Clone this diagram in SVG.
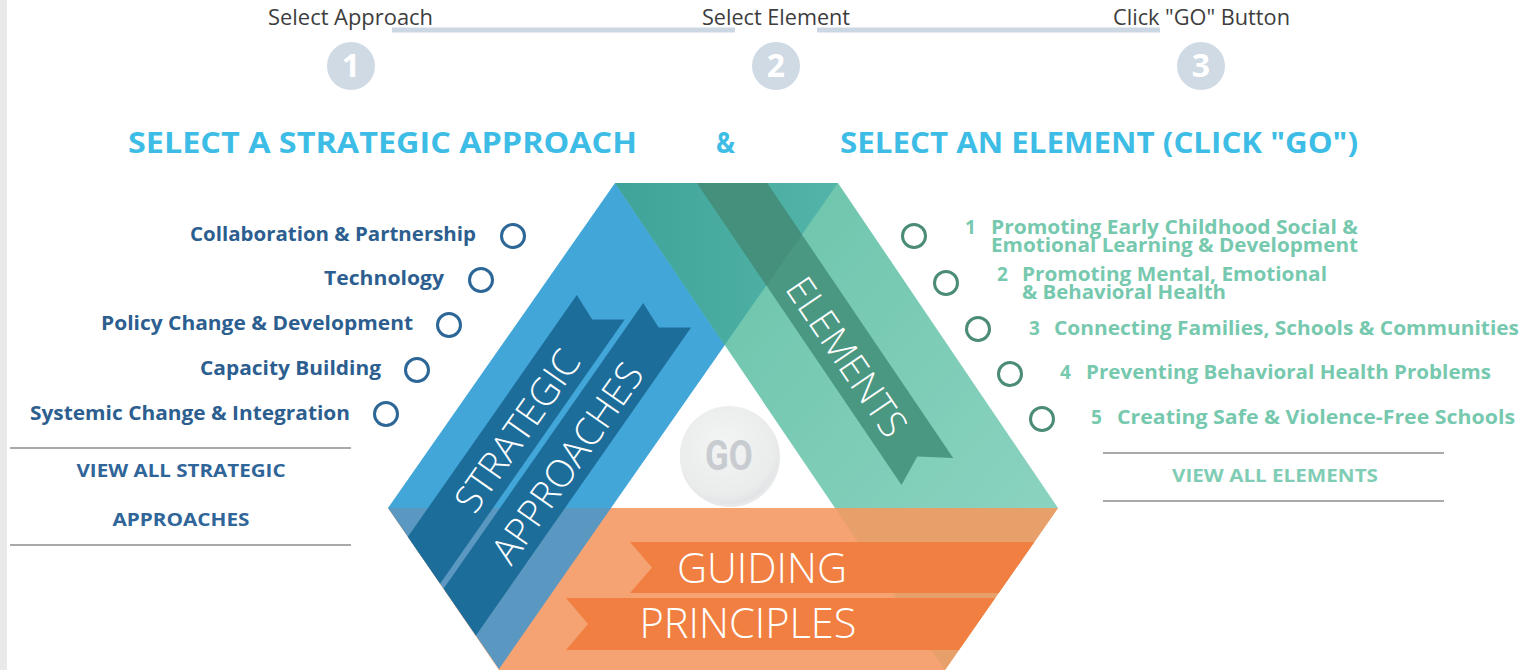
<svg xmlns="http://www.w3.org/2000/svg" width="1535" height="670" viewBox="0 0 1535 670">
  <defs>
    <style>
      .step { font-family: "Open Sans", "Liberation Sans", sans-serif; font-size: 21px; fill: #3d3d3d; }
      .stepnum { font-family: "Open Sans", "Liberation Sans", sans-serif; font-size: 32px; font-weight: 700; fill: #ffffff; text-anchor: middle; }
      .stepdot { fill: #cfdae4; }
      .track { stroke: #cbd8e3; stroke-width: 5; }
      .head { font-family: "Open Sans", "Liberation Sans", sans-serif; font-size: 28px; font-weight: 700; fill: #3dbde6; }
      .appr { font-family: "Open Sans", "Liberation Sans", sans-serif; font-size: 19px; font-weight: 700; fill: #2c5e8f; text-anchor: end; }
      .apprdot { fill: none; stroke: #2c6797; stroke-width: 3; }
      .elem { font-family: "Open Sans", "Liberation Sans", sans-serif; font-size: 19px; font-weight: 700; fill: #76c9ae; }
      .elemdot { fill: none; stroke: #4b8c76; stroke-width: 3; }
      .rule { stroke: #a9a9a9; stroke-width: 2; }
      .viewa { font-family: "Open Sans", "Liberation Sans", sans-serif; font-size: 17px; font-weight: 700; fill: #2f6598; text-anchor: middle; }
      .viewe { font-family: "Open Sans", "Liberation Sans", sans-serif; font-size: 17px; font-weight: 700; fill: #7fcdb4; text-anchor: middle; }
      .band { font-family: "Open Sans", "Liberation Sans", sans-serif; font-size: 38px; font-weight: 300; fill: #ffffff; text-anchor: middle; dominant-baseline: central; }
      .gp { font-family: "Open Sans", "Liberation Sans", sans-serif; font-size: 42px; font-weight: 300; fill: #ffffff; text-anchor: middle; }
    </style>
    <clipPath id="hexClip">
      <polygon points="615,183 838,183 1058,508 945,670 499,670 388,508"/>
    </clipPath>
    <clipPath id="blueClip">
      <polygon points="615,183 838,183 499,669 388,508"/>
    </clipPath>
    <clipPath id="greenClip">
      <polygon points="615,183 838,183 1058,508 835,508"/>
    </clipPath>
    <clipPath id="overlapClip">
      <polygon points="615,183 838,183 724.7,345.1"/>
    </clipPath>
    <linearGradient id="greenFill" gradientUnits="userSpaceOnUse" x1="700" y1="200" x2="1058" y2="508">
      <stop offset="0" stop-color="#6bc3aa"/>
      <stop offset="1" stop-color="#8ad3c0"/>
    </linearGradient>
    <linearGradient id="tealFill" gradientUnits="userSpaceOnUse" x1="615" y1="183" x2="838" y2="183">
      <stop offset="0" stop-color="#3fa399"/>
      <stop offset="1" stop-color="#53b5a9"/>
    </linearGradient>
    <radialGradient id="goFill" cx="0.45" cy="0.4" r="0.65">
      <stop offset="0" stop-color="#f3f4f4"/>
      <stop offset="0.8" stop-color="#eaecec"/>
      <stop offset="1" stop-color="#dcdfe0"/>
    </radialGradient>
  </defs>

  <rect x="0" y="0" width="1535" height="670" fill="#ffffff"/>
  <rect x="0" y="0" width="7" height="670" fill="#e9e9e9"/>

  <!-- step tracker -->
  <g id="steps">
    <line class="track" x1="392" y1="30" x2="735" y2="30"/>
    <line class="track" x1="817" y1="30" x2="1160" y2="30"/>
    <g id="step1">
      <text class="step" x="268" y="25" textLength="165" lengthAdjust="spacingAndGlyphs">Select Approach</text>
      <circle class="stepdot" cx="351" cy="66" r="24"/>
      <text class="stepnum" x="351" y="77">1</text>
    </g>
    <g id="step2">
      <text class="step" x="702" y="25" textLength="148" lengthAdjust="spacingAndGlyphs">Select Element</text>
      <circle class="stepdot" cx="776" cy="66" r="24"/>
      <text class="stepnum" x="776" y="77">2</text>
    </g>
    <g id="step3">
      <text class="step" x="1113" y="25" textLength="177" lengthAdjust="spacingAndGlyphs">Click "GO" Button</text>
      <circle class="stepdot" cx="1201" cy="66" r="24"/>
      <text class="stepnum" x="1201" y="77">3</text>
    </g>
  </g>

  <!-- headings -->
  <g id="headings">
    <text class="head" x="128" y="153" textLength="509" lengthAdjust="spacingAndGlyphs">SELECT A STRATEGIC APPROACH</text>
    <text class="head" x="716" y="153" textLength="19" lengthAdjust="spacingAndGlyphs">&amp;</text>
    <text class="head" x="840" y="153" textLength="518" lengthAdjust="spacingAndGlyphs">SELECT AN ELEMENT (CLICK "GO")</text>
  </g>

  <!-- strategic approaches list -->
  <g id="approaches">
    <g id="appr-collaboration">
      <text class="appr" x="476" y="241" textLength="286" lengthAdjust="spacingAndGlyphs">Collaboration &amp; Partnership</text>
      <circle class="apprdot" cx="513" cy="236" r="11.5"/>
    </g>
    <g id="appr-technology">
      <text class="appr" x="444" y="285" textLength="120" lengthAdjust="spacingAndGlyphs">Technology</text>
      <circle class="apprdot" cx="481" cy="280" r="11.5"/>
    </g>
    <g id="appr-policy">
      <text class="appr" x="413" y="330" textLength="312" lengthAdjust="spacingAndGlyphs">Policy Change &amp; Development</text>
      <circle class="apprdot" cx="449" cy="325" r="11.5"/>
    </g>
    <g id="appr-capacity">
      <text class="appr" x="381" y="375" textLength="181" lengthAdjust="spacingAndGlyphs">Capacity Building</text>
      <circle class="apprdot" cx="417" cy="370" r="11.5"/>
    </g>
    <g id="appr-systemic">
      <text class="appr" x="350" y="420" textLength="320" lengthAdjust="spacingAndGlyphs">Systemic Change &amp; Integration</text>
      <circle class="apprdot" cx="386" cy="414" r="11.5"/>
    </g>
    <g id="view-approaches">
      <line class="rule" x1="10" y1="448" x2="351" y2="448"/>
      <text class="viewa" x="181" y="477" textLength="209" lengthAdjust="spacingAndGlyphs">VIEW ALL STRATEGIC</text>
      <text class="viewa" x="181" y="526" textLength="137" lengthAdjust="spacingAndGlyphs">APPROACHES</text>
      <line class="rule" x1="10" y1="545" x2="351" y2="545"/>
    </g>
  </g>

  <!-- elements list -->
  <g id="elements">
    <g id="elem-1">
      <circle class="elemdot" cx="914" cy="236" r="11.5"/>
      <text class="elem" x="965" y="234">1</text>
      <text class="elem" x="991" y="234" textLength="367" lengthAdjust="spacingAndGlyphs">Promoting Early Childhood Social &amp;</text>
      <text class="elem" x="991" y="252" textLength="367" lengthAdjust="spacingAndGlyphs">Emotional Learning &amp; Development</text>
    </g>
    <g id="elem-2">
      <circle class="elemdot" cx="946" cy="283" r="11.5"/>
      <text class="elem" x="997" y="281">2</text>
      <text class="elem" x="1022" y="281" textLength="305" lengthAdjust="spacingAndGlyphs">Promoting Mental, Emotional</text>
      <text class="elem" x="1022" y="299" textLength="204" lengthAdjust="spacingAndGlyphs">&amp; Behavioral Health</text>
    </g>
    <g id="elem-3">
      <circle class="elemdot" cx="978" cy="329" r="11.5"/>
      <text class="elem" x="1029" y="335">3</text>
      <text class="elem" x="1054" y="335" textLength="465" lengthAdjust="spacingAndGlyphs">Connecting Families, Schools &amp; Communities</text>
    </g>
    <g id="elem-4">
      <circle class="elemdot" cx="1010" cy="374" r="11.5"/>
      <text class="elem" x="1060" y="379">4</text>
      <text class="elem" x="1086" y="379" textLength="405" lengthAdjust="spacingAndGlyphs">Preventing Behavioral Health Problems</text>
    </g>
    <g id="elem-5">
      <circle class="elemdot" cx="1042" cy="419" r="11.5"/>
      <text class="elem" x="1091" y="424">5</text>
      <text class="elem" x="1117" y="424" textLength="398" lengthAdjust="spacingAndGlyphs">Creating Safe &amp; Violence-Free Schools</text>
    </g>
    <g id="view-elements">
      <line class="rule" x1="1103" y1="453" x2="1444" y2="453"/>
      <text class="viewe" x="1275" y="482" textLength="206" lengthAdjust="spacingAndGlyphs">VIEW ALL ELEMENTS</text>
      <line class="rule" x1="1103" y1="501" x2="1444" y2="501"/>
    </g>
  </g>

  <!-- hexagon of three overlapping bands -->
  <g id="guiding-principles">
    <polygon points="388,508 1058,508 945,670 499,670" fill="#f5a372"/>
    <polygon points="835,508 1058,508 945,670" fill="#e8a06b"/>
    <g clip-path="url(#hexClip)">
      <polygon points="630,542 1100,542 1100,593 630,593 652,567.5" fill="#f07f41"/>
      <polygon points="566,598 1100,598 1100,650 566,650 588,624" fill="#f07f41"/>
    </g>
    <text class="gp" x="762" y="583" textLength="170" lengthAdjust="spacingAndGlyphs">GUIDING</text>
    <text class="gp" x="748" y="638" textLength="217" lengthAdjust="spacingAndGlyphs">PRINCIPLES</text>
  </g>

  <g id="strategic-approaches">
    <polygon points="615,183 838,183 611,508 388,508" fill="#42a6d8"/>
    <polygon points="388,508 611,508 499,669" fill="#5a98c1"/>
    <g clip-path="url(#blueClip)" fill="#1d6d9a">
      <polygon points="576.8,295 592.2,319.5 624.7,319.4 358.9,700 293.9,700"/>
      <polygon points="643.2,303 658.6,327.5 691.1,327.4 430.9,700 365.9,700"/>
    </g>
    <text class="band" transform="translate(516,430) rotate(-55.07)">STRATEGIC</text>
    <text class="band" transform="translate(566,462) rotate(-55.07)">APPROACHES</text>
  </g>

  <g id="elements-band">
    <polygon points="615,183 838,183 1058,508 835,508" fill="url(#greenFill)"/>
    <polygon points="615,183 838,183 724.7,345.1" fill="url(#tealFill)"/>
    <g clip-path="url(#greenClip)">
      <polygon points="697,183 767,183 953.2,458 917.3,456.6 901.5,485" fill="#4a9782"/>
      <polygon clip-path="url(#overlapClip)" points="697,183 767,183 953.2,458 917.3,456.6 901.5,485" fill="#44907c"/>
    </g>
    <text class="band" transform="translate(848,356) rotate(55.9)">ELEMENTS</text>
  </g>

  <!-- GO button -->
  <g id="go-button">
    <circle cx="730" cy="457" r="50" fill="#d6d9da" opacity="0.6"/>
    <circle cx="729" cy="455" r="49" fill="url(#goFill)"/>
    <text transform="translate(729,470) scale(0.83,1)" x="0" y="0" font-family="Roboto, 'Liberation Sans', sans-serif" font-weight="700" font-size="42" fill="#c8ccd1" text-anchor="middle">GO</text>
  </g>
</svg>
